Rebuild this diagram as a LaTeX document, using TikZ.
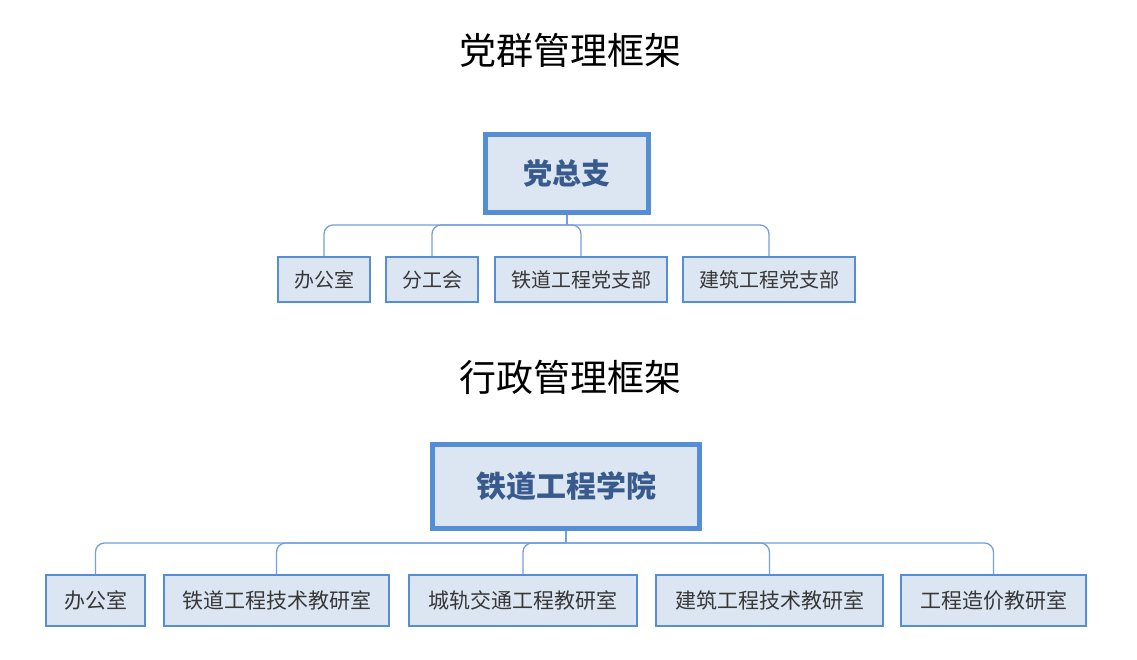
\documentclass[tikz,border=0pt]{standalone}
\usepackage{fontspec}
\setmainfont{Noto Sans CJK SC}
\newfontfamily\cjk{Noto Sans CJK SC}
\definecolor{hdborder}{RGB}{85,142,213}
\definecolor{lfborder}{RGB}{85,142,213}
\definecolor{boxfill}{RGB}{220,230,242}
\definecolor{hdtext}{RGB}{56,90,140}
\definecolor{lftext}{RGB}{55,55,55}
\definecolor{linkcol}{RGB}{115,160,220}
\begin{document}
\begin{tikzpicture}[x=1pt,y=-1pt,
  title/.style={font=\cjk\fontsize{37}{37}\selectfont, text=black, inner sep=0pt},
  headbox/.style={draw=hdborder, line width=5pt, fill=boxfill, text=hdtext,
    font=\cjk\bfseries\fontsize{29}{29}\selectfont, inner sep=0pt},
  leafbox/.style={draw=lfborder, line width=2pt, fill=boxfill, text=lftext,
    font=\cjk\fontsize{20}{20}\selectfont, inner sep=0pt},
  leafboxb/.style={leafbox, font=\cjk\fontsize{21}{21}\selectfont},
  link/.style={draw=linkcol, line width=1.3pt, rounded corners=9pt}]
\useasboundingbox (0,0) rectangle (1137,659);
\fill[white] (0,0) rectangle (1137,659);

% ---------- top chart ----------
\node[title] (t1) at (570,50) {党群管理框架};
\node[headbox, minimum width=163pt, minimum height=78pt] (p1) at (567,173.5) {党总支};
\node[leafbox, minimum width=92pt, minimum height=45pt] (a1) at (324,279.5) {办公室};
\node[leafbox, minimum width=92pt, minimum height=45pt] (a2) at (432,279.5) {分工会};
\node[leafbox, minimum width=172pt, minimum height=45pt] (a3) at (581,279.5) {铁道工程党支部};
\node[leafbox, minimum width=172pt, minimum height=45pt] (a4) at (769,279.5) {建筑工程党支部};
\coordinate (j1) at (567,225);
\draw[link] (p1.south) -- (j1);
\foreach \c in {a1,a2,a3,a4} \draw[link] (j1) -| (\c.north);

% ---------- bottom chart ----------
\node[title] (t2) at (570,377) {行政管理框架};
\node[headbox, font=\cjk\bfseries\fontsize{30}{30}\selectfont, minimum width=267pt, minimum height=84pt] (p2) at (566,486.5) {铁道工程学院};
\node[leafboxb, minimum width=99pt, minimum height=51pt] (b1) at (95.5,600.5) {办公室};
\node[leafboxb, minimum width=225pt, minimum height=51pt] (b2) at (276.5,600.5) {铁道工程技术教研室};
\node[leafboxb, minimum width=228pt, minimum height=51pt] (b3) at (523,600.5) {城轨交通工程教研室};
\node[leafboxb, minimum width=227pt, minimum height=51pt] (b4) at (769.5,600.5) {建筑工程技术教研室};
\node[leafboxb, minimum width=185pt, minimum height=51pt] (b5) at (993.5,600.5) {工程造价教研室};
\coordinate (j2) at (566,543);
\draw[link] (p2.south) -- (j2);
\foreach \c in {b1,b2,b3,b4,b5} \draw[link] (j2) -| (\c.north);
\end{tikzpicture}
\end{document}
